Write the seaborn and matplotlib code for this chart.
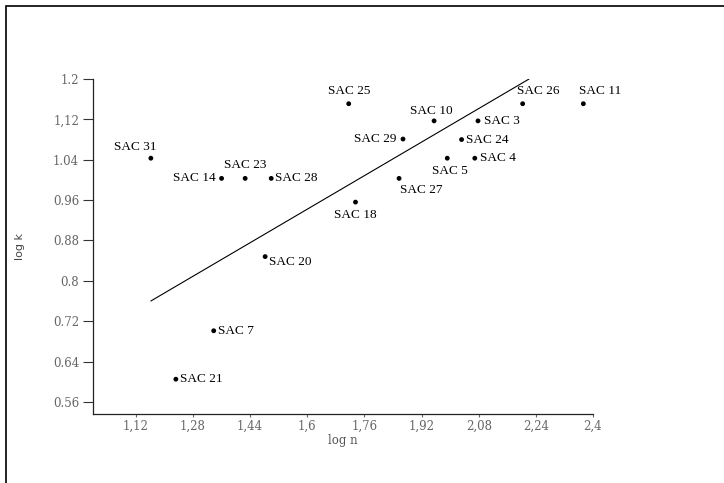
import matplotlib
matplotlib.use("Agg")
import matplotlib.pyplot as plt
import pandas as pd
import seaborn as sns
from matplotlib.patches import Rectangle

# Compounds and their values
compounds = ["SAC 31", "SAC 14", "SAC 23", "SAC 28", "SAC 25", "SAC 29", "SAC 18",
             "SAC 20", "SAC 7", "SAC 21", "SAC 10", "SAC 3", "SAC 24", "SAC 5",
             "SAC 4", "SAC 27", "SAC 26", "SAC 11"]
log_n = [1.162, 1.360, 1.426, 1.499, 1.716, 1.868, 1.735,
         1.482, 1.338, 1.232, 1.955, 2.078, 2.032, 1.992,
         2.069, 1.857, 2.203, 2.373]
log_k = [1.043, 1.003, 1.003, 1.003, 1.151, 1.081, 0.956,
         0.848, 0.701, 0.605, 1.117, 1.117, 1.080, 1.043,
         1.043, 1.003, 1.151, 1.151]

# Fitted line end points
line_x = [1.162, 2.221]
line_y = [0.760, 1.200]

x_ticks = [1.12, 1.28, 1.44, 1.6, 1.76, 1.92, 2.08, 2.24, 2.4]
x_tick_labels = ["1,12", "1,28", "1,44", "1,6", "1,76", "1,92", "2,08", "2,24", "2,4"]
y_ticks = [1.2, 1.12, 1.04, 0.96, 0.88, 0.8, 0.72, 0.64, 0.56]
y_tick_labels = ["1.2", "1,12", "1.04", "0.96", "0.88", "0.8", "0.72", "0.64", "0.56"]

df = pd.DataFrame({"compound": compounds, "log_n": log_n, "log_k": log_k})

# label placement (offset in points, horizontal alignment, vertical alignment)
placement = {
    "SAC 31": (4, 4, "right", "bottom"),
    "SAC 14": (-4, 0, "right", "center"),
    "SAC 23": (0, 5, "center", "bottom"),
    "SAC 28": (3, 0, "left", "center"),
    "SAC 25": (0, 5, "center", "bottom"),
    "SAC 29": (-5, 0, "right", "center"),
    "SAC 18": (0, -5, "center", "top"),
    "SAC 20": (3, -4, "left", "center"),
    "SAC 7": (3, 0, "left", "center"),
    "SAC 21": (3, 0, "left", "center"),
    "SAC 10": (-2, 3, "center", "bottom"),
    "SAC 3": (4, 0, "left", "center"),
    "SAC 24": (3, 0, "left", "center"),
    "SAC 5": (2, -5, "center", "top"),
    "SAC 4": (4, 0, "left", "center"),
    "SAC 27": (1, -4, "left", "top"),
    "SAC 26": (-4, 5, "left", "bottom"),
    "SAC 11": (-3, 5, "left", "bottom"),
}

sns.set_style("ticks")
plt.rcParams["font.family"] = ["Liberation Serif", "DejaVu Serif"]

fig = plt.figure(figsize=(7.24, 4.83), dpi=100)
ax = fig.add_axes([93 / 724, 69 / 483, 500 / 724, 335 / 483])

sns.scatterplot(data=df, x="log_n", y="log_k", ax=ax, color="black",
                s=12, marker="o", edgecolor="none", legend=False)
sns.lineplot(x=line_x, y=line_y, ax=ax, color="black", linewidth=0.8)

for _, row in df.iterrows():
    dx, dy, ha, va = placement[row["compound"]]
    ax.annotate(row["compound"], (row["log_n"], row["log_k"]),
                xytext=(dx, dy), textcoords="offset points",
                ha=ha, va=va, fontsize=9.5, color="black")

ax.set_xlim(1.0, 2.4)
ax.set_ylim(0.536, 1.2)
ax.set_xticks(x_ticks)
ax.set_xticklabels(x_tick_labels, fontsize=8.5, color="#666666",
                   family=["DejaVu Serif"])
ax.set_yticks(y_ticks)
ax.set_yticklabels(y_tick_labels, fontsize=8.5, color="#666666",
                   family=["DejaVu Serif"])
ax.tick_params(axis="y", direction="out", length=7, width=0.8, color="#333333", pad=3)
ax.tick_params(axis="x", direction="out", length=2, width=0.8, color="#666666", pad=2)
ax.set_xlabel("log n", fontsize=8.5, color="#555555", labelpad=1,
              family=["DejaVu Serif"])
ax.set_ylabel("log k", fontsize=8, color="#444444", labelpad=20,
              family=["DejaVu Sans"])
sns.despine(ax=ax)
for side in ["left", "bottom"]:
    ax.spines[side].set_linewidth(0.9)
    ax.spines[side].set_color("#222222")

# outer frame of the figure
fig.patches.append(Rectangle((6 / 724, -0.1), 1.2, (483 - 6) / 483 + 0.1,
                             transform=fig.transFigure, fill=False,
                             edgecolor="black", linewidth=1.2))

fig.savefig("out.png", dpi=100)
